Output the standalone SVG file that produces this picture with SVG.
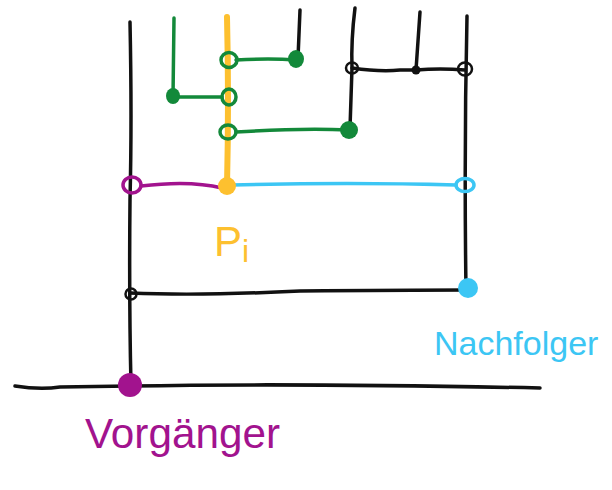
<svg xmlns="http://www.w3.org/2000/svg" width="612" height="490" viewBox="0 0 612 490">
<style>
.k{stroke:#111;stroke-width:3.5;fill:none;stroke-linecap:round;stroke-linejoin:round}
.g{stroke:#13893A;stroke-width:3.5;fill:none;stroke-linecap:round}
.o{stroke:#FDC02F;stroke-width:6;fill:none;stroke-linecap:round}
.b{stroke:#3CC6F4;stroke-width:3.5;fill:none;stroke-linecap:round}
.m{stroke:#A2138E;stroke-width:3.5;fill:none;stroke-linecap:round}
.gf{fill:#13893A}
.kf{fill:#111}
.lbl{font-family:"Liberation Sans",Arial,sans-serif}
</style>
<rect width="612" height="490" fill="#fff"/>
<g id="connectors">
  <path class="k" d="M130,22 Q132,120 130,200 Q129,300 131,385"/>
  <path class="k" d="M300,10 L298,58"/>
  <path class="k" d="M355,8 Q351,40 352,68 L350,128"/>
  <path class="k" d="M420,12 L416,70"/>
  <path class="k" d="M467,16 Q464,150 466,290"/>
  <path class="k" d="M352,68 Q380,72 400,70 L416,70 Q440,68 465,70"/>
  <path class="k" d="M130,293 Q200,296 300,291 Q400,290 467,290"/>
  <path class="k" d="M15,386 Q40,390 60,387 L130,386 Q300,383 540,388"/>
  <path class="g" d="M174,18 L173,97"/>
  <path class="g" d="M236,60 Q270,58 296,60"/>
  <path class="g" d="M173,97 L222,97"/>
  <path class="g" d="M236,132 Q300,128 349,130"/>
  <path class="o" d="M227,17 Q229,100 227,186"/>
  <path class="m" d="M141,186 Q190,180 222,188"/>
  <path class="b" d="M232,185 Q350,182 456,185"/>
</g>
<g id="nodes">
  <g id="open-circles-green">
    <ellipse class="g" cx="229" cy="60" rx="8" ry="7.5"/>
    <ellipse class="g" cx="229" cy="97" rx="7" ry="8"/>
    <ellipse class="g" cx="228" cy="132" rx="8" ry="7"/>
  </g>
  <g id="green-dots">
    <ellipse class="gf" cx="296" cy="59" rx="8" ry="9"/>
    <ellipse class="gf" cx="173" cy="96" rx="7" ry="8"/>
    <ellipse class="gf" cx="349" cy="130" rx="9" ry="9"/>
  </g>
  <g id="black-junctions">
    <ellipse class="k" cx="352" cy="68" rx="6" ry="5.5" style="stroke-width:2.5"/>
    <circle class="kf" cx="416" cy="70" r="4.5"/>
    <ellipse class="k" cx="465" cy="69" rx="7" ry="6.5" style="stroke-width:2.5"/>
    <ellipse class="k" cx="131" cy="294" rx="5.5" ry="5.5" style="stroke-width:2.5"/>
  </g>
  <g id="pi-node">
    <circle cx="227" cy="186" r="9" fill="#FDC02F"/>
  </g>
  <g id="pred-link">
    <ellipse class="m" cx="132" cy="185" rx="9" ry="8"/>
  </g>
  <g id="succ-link">
    <ellipse class="b" cx="465" cy="185" rx="9" ry="6.5"/>
  </g>
  <g id="nachfolger">
    <ellipse cx="468" cy="288" rx="10" ry="10" fill="#3CC6F4"/>
  </g>
  <g id="vorgaenger">
    <circle cx="130" cy="385" r="12" fill="#A2138E"/>
  </g>
</g>
<g id="labels" class="lbl">
  <text x="214" y="256" font-size="42" fill="#FDC02F">P<tspan font-size="32" dy="6">i</tspan></text>
  <text x="85" y="448" font-size="42" fill="#A2138E" textLength="195" lengthAdjust="spacingAndGlyphs">Vorgänger</text>
  <text x="434" y="355" font-size="34" fill="#3CC6F4">Nachfolger</text>
</g>
</svg>
